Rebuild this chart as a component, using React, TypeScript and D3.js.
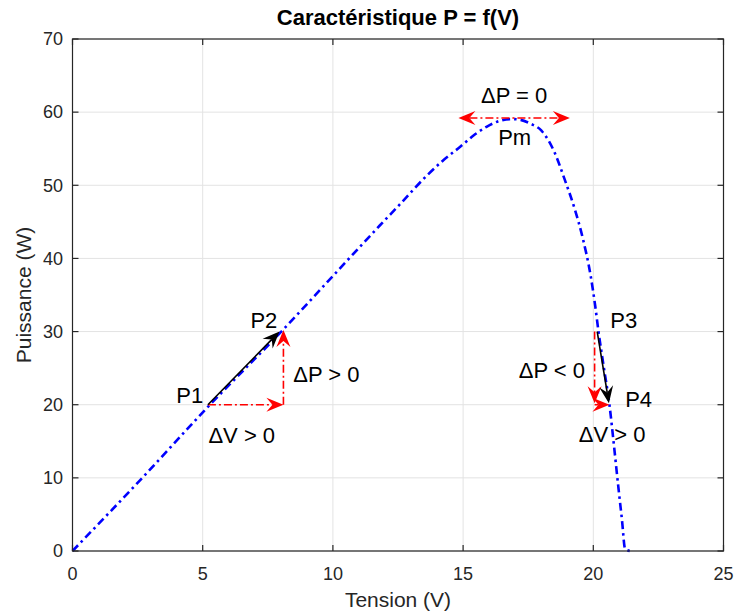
import React from "react";
import * as d3 from "d3";

// ---- data ----
const voltage = [0, 2.6, 5.2, 8.1, 10, 11.8, 12.6, 13.6, 14.2, 14.9, 15.4, 15.9, 16.4, 16.9, 17.2, 17.6, 18.0, 18.5, 18.9, 19.3, 19.6, 19.9, 20.07, 20.2, 20.4, 20.62, 20.8, 20.96, 21.1, 21.22, 21.41];
const power = [0, 9.7, 19.7, 30.3, 37.6, 44.5, 47.5, 51.3, 53.3, 55.3, 56.8, 58.0, 58.8, 59.05, 58.95, 58.4, 57.5, 54.6, 50.8, 46.6, 42.7, 37.6, 33.6, 30.0, 25.2, 20.0, 14.2, 8.8, 4.3, 0.3, 0];

const xTicks = [0, 5, 10, 15, 20, 25];
const yTicks = [0, 10, 20, 30, 40, 50, 60, 70];

const redArrows: { from: [number, number]; to: [number, number]; both?: boolean }[] = [
  { from: [5.2, 20], to: [8.1, 20] },
  { from: [8.1, 20], to: [8.1, 30.2] },
  { from: [20.05, 30], to: [20.05, 20.2] },
  { from: [20.05, 20], to: [20.62, 20] },
  { from: [14.82, 59.2], to: [19.1, 59.2], both: true },
];
const blackArrows: { from: [number, number]; to: [number, number] }[] = [
  { from: [5.2, 20], to: [7.95, 30.0] },
  { from: [20.15, 30], to: [20.6, 20.2] },
];
const labels: { text: string; v: number; p: number }[] = [
  { text: "P1", v: 4.5, p: 20.2 },
  { text: "P2", v: 7.35, p: 30.5 },
  { text: "ΔP > 0", v: 9.75, p: 23.1 },
  { text: "ΔV > 0", v: 6.5, p: 14.8 },
  { text: "ΔP = 0", v: 16.96, p: 61.25 },
  { text: "Pm", v: 16.98, p: 55.5 },
  { text: "P3", v: 21.17, p: 30.5 },
  { text: "ΔP < 0", v: 18.41, p: 23.65 },
  { text: "P4", v: 21.74, p: 19.7 },
  { text: "ΔV > 0", v: 20.72, p: 14.9 },
];

const W = 735;
const H = 611;
const M = { left: 72.5, right: 723.5, top: 39, bottom: 551 };
const FONT = "Arial, 'Liberation Sans', Helvetica, sans-serif";
const AX = "#262626";

function head(tip: [number, number], from: [number, number], color: string, key: string) {
  const dx = tip[0] - from[0];
  const dy = tip[1] - from[1];
  const L = Math.hypot(dx, dy) || 1;
  const ux = dx / L, uy = dy / L;
  const nx = -uy, ny = ux;
  const len = 17, hw = 7, notch = 11;
  const p1 = [tip[0] - ux * len + nx * hw, tip[1] - uy * len + ny * hw];
  const p2 = [tip[0] - ux * notch, tip[1] - uy * notch];
  const p3 = [tip[0] - ux * len - nx * hw, tip[1] - uy * len - ny * hw];
  const d = `M${tip[0]},${tip[1]}L${p1[0]},${p1[1]}L${p2[0]},${p2[1]}L${p3[0]},${p3[1]}Z`;
  return <path key={key} d={d} fill={color} stroke="none" />;
}

export default function App() {
  const x = d3.scaleLinear().domain([0, 25]).range([M.left, M.right]);
  const y = d3.scaleLinear().domain([0, 70]).range([M.bottom, M.top]);
  const pts = voltage.map((v, i) => [v, power[i]] as [number, number]);
  const line = d3
    .line<[number, number]>()
    .x((d) => x(d[0]))
    .y((d) => y(d[1]))
    .curve(d3.curveMonotoneX);

  const drawArrow = (
    a: { from: [number, number]; to: [number, number]; both?: boolean },
    color: string,
    dash: string | undefined,
    key: string
  ) => {
    const f: [number, number] = [x(a.from[0]), y(a.from[1])];
    const t: [number, number] = [x(a.to[0]), y(a.to[1])];
    const dx = t[0] - f[0], dy = t[1] - f[1];
    const L = Math.hypot(dx, dy) || 1;
    const ux = dx / L, uy = dy / L;
    const endT = [t[0] - ux * 11, t[1] - uy * 11];
    const startF = a.both ? [f[0] + ux * 11, f[1] + uy * 11] : f;
    return (
      <g key={key}>
        <line
          x1={startF[0]}
          y1={startF[1]}
          x2={endT[0]}
          y2={endT[1]}
          stroke={color}
          strokeWidth={1.6}
          strokeDasharray={dash}
        />
        {head(t, f, color, key + "h1")}
        {a.both ? head(f, t, color, key + "h2") : null}
      </g>
    );
  };

  return (
    <svg
      width={W}
      height={H}
      style={{ position: "absolute", left: 0, top: 0, background: "#fff" }}
      fontFamily={FONT}
    >
      <rect x={0} y={0} width={W} height={H} fill="#fff" />
      {/* grid */}
      {xTicks.map((t) => (
        <line key={"gx" + t} x1={x(t)} x2={x(t)} y1={M.top} y2={M.bottom} stroke="#e3e3e3" strokeWidth={1} />
      ))}
      {yTicks.map((t) => (
        <line key={"gy" + t} x1={M.left} x2={M.right} y1={y(t)} y2={y(t)} stroke="#e3e3e3" strokeWidth={1} />
      ))}

      {/* curve */}
      <path
        d={line(pts) || ""}
        fill="none"
        stroke="#0000ff"
        strokeWidth={2.6}
        strokeDasharray="8,4,2.5,4"
      />

      {/* arrows */}
      {redArrows.map((a, i) => drawArrow(a, "#ff0000", "8,3,2,3", "r" + i))}
      {blackArrows.map((a, i) => drawArrow(a, "#000000", undefined, "b" + i))}

      {/* labels */}
      {labels.map((l, i) => (
        <text key={"l" + i} x={x(l.v)} y={y(l.p)} textAnchor="middle" fontSize={22} fill="#000">
          {l.text}
        </text>
      ))}

      {/* axes box */}
      <rect x={M.left} y={M.top} width={M.right - M.left} height={M.bottom - M.top} fill="none" stroke={AX} strokeWidth={1.2} />
      {xTicks.map((t) => (
        <g key={"xt" + t}>
          <line x1={x(t)} x2={x(t)} y1={M.bottom} y2={M.bottom - 6} stroke={AX} strokeWidth={1.2} />
          <line x1={x(t)} x2={x(t)} y1={M.top} y2={M.top + 6} stroke={AX} strokeWidth={1.2} />
          <text x={x(t)} y={580} textAnchor="middle" fontSize={18} fill={AX}>
            {t}
          </text>
        </g>
      ))}
      {yTicks.map((t) => (
        <g key={"yt" + t}>
          <line x1={M.left} x2={M.left + 6} y1={y(t)} y2={y(t)} stroke={AX} strokeWidth={1.2} />
          <line x1={M.right} x2={M.right - 6} y1={y(t)} y2={y(t)} stroke={AX} strokeWidth={1.2} />
          <text x={63} y={y(t)} dy="0.35em" textAnchor="end" fontSize={18} fill={AX}>
            {t}
          </text>
        </g>
      ))}

      {/* axis labels */}
      <text x={(M.left + M.right) / 2} y={607} textAnchor="middle" fontSize={21} fill={AX}>
        Tension (V)
      </text>
      <text
        transform={`translate(31,${(M.top + M.bottom) / 2}) rotate(-90)`}
        textAnchor="middle"
        fontSize={21}
        fill={AX}
      >
        Puissance (W)
      </text>
      <text x={(M.left + M.right) / 2} y={25} textAnchor="middle" fontSize={22} fontWeight="bold" fill="#000">
        Caractéristique P = f(V)
      </text>
    </svg>
  );
}
